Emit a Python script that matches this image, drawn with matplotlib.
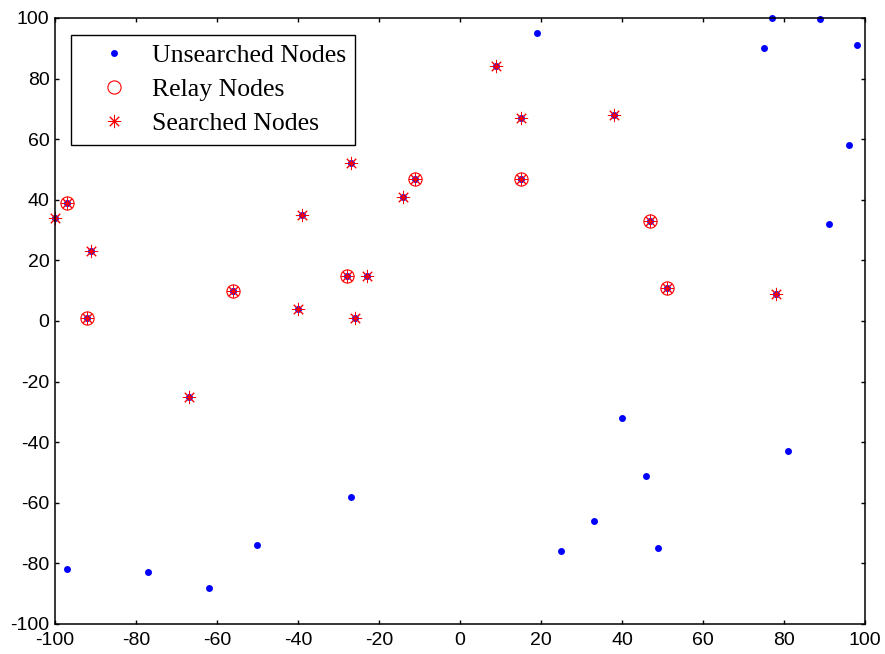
import numpy as np
import matplotlib
matplotlib.use("Agg")
import matplotlib.pyplot as plt

plt.rcParams['axes.unicode_minus'] = False

# node coordinates
unsearched_x = [19, 77, 75, 89, 98, 96, 91, 40, 81, 46, 33, 49, 25, -27, -50, -62, -77, -97]
unsearched_y = [95, 100, 90, 99.5, 91, 58, 32, -32, -43, -51, -66, -75, -76, -58, -74, -88, -83, -82]

searched_x = [-100, -97, -91, -92, -67, -56, -40, -39, -28, -26, -27, -23, -14, -11, 9, 15, 15, 38, 47, 51, 78]
searched_y = [34, 39, 23, 1, -25, 10, 4, 35, 15, 1, 52, 15, 41, 47, 84, 67, 47, 68, 33, 11, 9]

relay_x = [-97, -92, -56, -28, -11, 15, 47, 51]
relay_y = [39, 1, 10, 15, 47, 47, 33, 11]

all_x = np.array(unsearched_x + searched_x)
all_y = np.array(unsearched_y + searched_y)

fig = plt.figure(figsize=(8.85, 6.54), dpi=100)
ax = fig.add_axes([0.0621, 0.0459, 0.9153, 0.9266])

ax.plot(all_x, all_y, 'o', color='blue', markersize=5, markeredgewidth=0,
        label='Unsearched Nodes', clip_on=False)
ax.plot(relay_x, relay_y, 'o', markerfacecolor='none', markeredgecolor='red',
        markersize=9.5, markeredgewidth=0.8, label='Relay Nodes', clip_on=False)
ax.plot(searched_x, searched_y, linestyle='none', marker=(8, 2, 0), color='red',
        markersize=9.5, markeredgewidth=0.7, label='Searched Nodes', clip_on=False)

ax.set_xlim(-100, 100)
ax.set_ylim(-100, 100)
ax.set_xticks(np.arange(-100, 101, 20))
ax.set_yticks(np.arange(-100, 101, 20))
ax.tick_params(direction='in', length=3, width=1, top=True, right=True,
               labelsize=14)
ax.tick_params(axis='x', pad=6)
ax.tick_params(axis='y', pad=4)
for lab in ax.get_xticklabels() + ax.get_yticklabels():
    lab.set_family('Liberation Sans')
for s in ax.spines.values():
    s.set_linewidth(1.1)

leg = ax.legend(loc='upper left', bbox_to_anchor=(0.0197, 0.972),
                prop={'family': 'Liberation Serif', 'size': 18.5},
                fancybox=False, edgecolor='black', framealpha=1,
                handletextpad=0.2, labelspacing=0.43, borderpad=0.36,
                handlelength=2.6, numpoints=1, borderaxespad=0)
leg.get_frame().set_linewidth(1.0)

fig.savefig('out.png', dpi=100)
